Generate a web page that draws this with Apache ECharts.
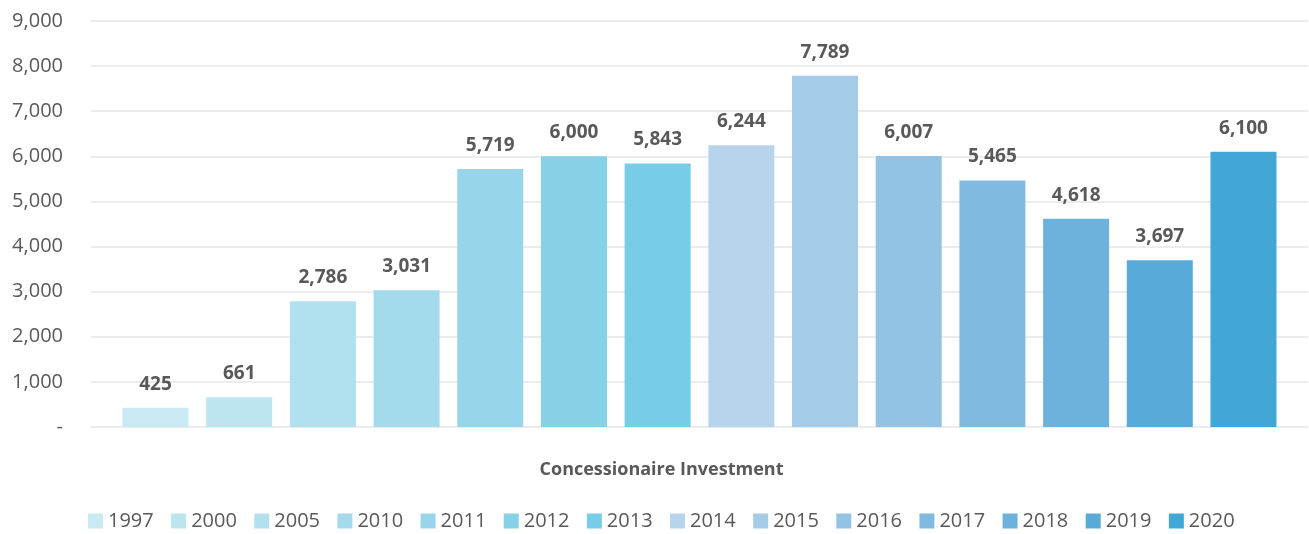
<!DOCTYPE html>
<html>
<head>
<meta charset="utf-8">
<script src="https://cdn.jsdelivr.net/npm/echarts@6/dist/echarts.min.js"></script>
<style>
  html, body { margin: 0; padding: 0; background: #fff; }
  #chart { width: 1309px; height: 534px; }
</style>
</head>
<body>
<div id="chart"></div>
<script>
// data
const category = ['Concessionaire Investment'];
const years = ['1997', '2000', '2005', '2010', '2011', '2012', '2013',
               '2014', '2015', '2016', '2017', '2018', '2019', '2020'];
const investment = [425, 661, 2786, 3031, 5719, 6000, 5843,
                    6244, 7789, 6007, 5465, 4618, 3697, 6100];
const colors = ['#c9e9f3', '#bde5f0', '#b1e0ee', '#a4dbec', '#97d6ea', '#86d0e8', '#77cce7',
                '#b6d4eb', '#a4cbe7', '#92c3e4', '#80bae1', '#6db2dd', '#58aad9', '#42a7d7'];

const fmt = v => v === 0 ? '-' : v.toLocaleString('en-US');
const textColor = '#595959';
const font = '"Open Sans", sans-serif';

let myChart = echarts.init(document.getElementById('chart'));

let series = years.map((y, i) => ({
    name: y,
    type: 'bar',
    data: [investment[i]],
    barWidth: 66,
    barGap: '26.8%',
    itemStyle: { color: colors[i] },
    label: {
        show: true,
        position: 'top',
        distance: 14,
        color: textColor,
        fontFamily: font,
        fontWeight: 'bold',
        fontSize: 19,
        formatter: p => fmt(p.value)
    }
}));

myChart.setOption({
    animation: false,
    textStyle: { fontFamily: font },
    grid: { left: 91, right: 1, top: 21, bottom: 107 },
    legend: {
        bottom: -2,
        left: 83,
        icon: 'rect',
        itemWidth: 15,
        itemHeight: 15,
        itemGap: 17.4,
        textStyle: { color: textColor, fontSize: 20, fontFamily: font },
        data: years
    },
    xAxis: {
        type: 'category',
        data: category,
        axisLine: { show: false },
        axisTick: { show: false },
        axisLabel: {
            margin: 34,
            padding: [0, 76, 0, 0],
            color: textColor,
            fontWeight: 'bold',
            fontSize: 18,
            fontFamily: font
        }
    },
    yAxis: {
        type: 'value',
        min: 0,
        max: 9000,
        interval: 1000,
        axisLine: { show: false },
        axisTick: { show: false },
        splitLine: { lineStyle: { color: '#e6e6e6', width: 1.5 } },
        axisLabel: {
            margin: 28,
            color: textColor,
            fontSize: 20,
            fontFamily: font,
            formatter: fmt
        }
    },
    series: series
});
</script>
</body>
</html>
